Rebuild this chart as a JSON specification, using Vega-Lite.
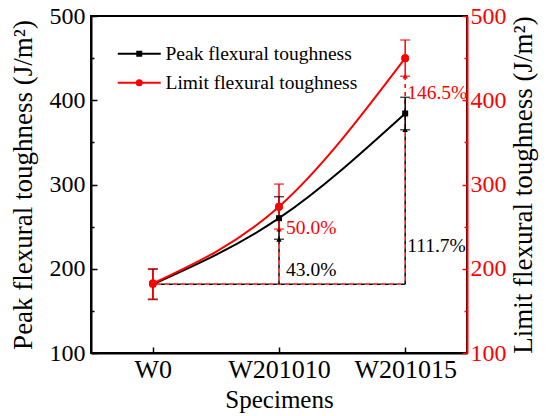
{
  "$schema": "https://vega.github.io/schema/vega-lite/v6.json",
  "width": 376,
  "height": 337,
  "autosize": {"type": "none"},
  "padding": {"left": 91, "top": 16, "right": 85, "bottom": 63},
  "background": "white",
  "config": {
    "font": "Liberation Serif",
    "view": {"stroke": "black", "strokeWidth": 2},
    "text": {"font": "Liberation Serif"},
    "legend": {"labelFont": "Liberation Serif"},
    "axis": {
      "labelFont": "Liberation Serif",
      "titleFont": "Liberation Serif",
      "labelFontSize": 24,
      "titleFontSize": 27,
      "titleFontWeight": "normal",
      "labelColor": "black",
      "titleColor": "black",
      "domainColor": "black",
      "domainWidth": 2,
      "tickColor": "black",
      "tickWidth": 1.5,
      "grid": false
    }
  },
  "datasets": {
    "toughness": [
      {"specimen": "W0", "series": "Peak flexural toughness", "value": 181.5, "lo": 163.5, "hi": 199.5},
      {"specimen": "W201010", "series": "Peak flexural toughness", "value": 260, "lo": 235, "hi": 285.5},
      {"specimen": "W201015", "series": "Peak flexural toughness", "value": 384.3, "lo": 365, "hi": 403.5},
      {"specimen": "W0", "series": "Limit flexural toughness", "value": 182.5, "lo": 164, "hi": 200},
      {"specimen": "W201010", "series": "Limit flexural toughness", "value": 273.7, "lo": 247, "hi": 300.5},
      {"specimen": "W201015", "series": "Limit flexural toughness", "value": 450, "lo": 428.5, "hi": 471.5}
    ],
    "baseline": [
      {"series": "Peak flexural toughness", "from": "W0", "to": "W201015", "level": 181.5},
      {"series": "Limit flexural toughness", "from": "W0", "to": "W201015", "level": 182}
    ],
    "risers": [
      {"series": "Peak flexural toughness", "specimen": "W201010", "level": 181.5, "top": 235},
      {"series": "Peak flexural toughness", "specimen": "W201015", "level": 181.5, "top": 365},
      {"series": "Limit flexural toughness", "specimen": "W201010", "level": 182, "top": 247},
      {"series": "Limit flexural toughness", "specimen": "W201015", "level": 182, "top": 428.5}
    ],
    "gains": [
      {"series": "Limit flexural toughness", "specimen": "W201010", "at": 248, "label": "50.0%"},
      {"series": "Peak flexural toughness", "specimen": "W201010", "at": 198.5, "label": "43.0%"},
      {"series": "Limit flexural toughness", "specimen": "W201015", "at": 408.5, "label": "146.5%"},
      {"series": "Peak flexural toughness", "specimen": "W201015", "at": 227, "label": "111.7%"}
    ]
  },
  "encoding": {
    "x": {
      "field": "specimen",
      "type": "ordinal",
      "scale": {"type": "point", "domain": ["W0", "W201010", "W201015"], "padding": 0.49},
      "axis": {"title": "Specimens", "titleFontSize": 25, "labelFontSize": 26, "labelAngle": 0, "tickSize": -6, "labelPadding": 9, "titlePadding": 5}
    }
  },
  "layer": [
    {
      "encoding": {
        "y": {
          "type": "quantitative",
          "scale": {"domain": [100, 500], "nice": false, "zero": false},
          "axis": {
            "title": "Peak flexural toughness (J/m²)",
            "values": [100, 150, 200, 250, 300, 350, 400, 450, 500],
            "labelExpr": "datum.value % 100 === 0 ? datum.label : ''",
            "tickSize": {"condition": {"test": "datum.value % 100 === 0", "value": -6}, "value": -3},
            "labelPadding": 12,
            "titlePadding": 12
          }
        },
        "color": {
          "field": "series",
          "type": "nominal",
          "scale": {"domain": ["Peak flexural toughness", "Limit flexural toughness"], "range": ["black", "#ff0000"]},
          "legend": {
            "title": null,
            "orient": "none",
            "legendX": 38.5,
            "legendY": 28,
            "labelFontSize": 19.5,
            "labelColor": "black",
            "labelLimit": 0,
            "labelOffset": 16.5,
            "symbolSize": 100,
            "symbolStrokeWidth": 2,
            "rowPadding": 8,
            "encode": {
              "symbols": {
                "update": {
                  "shape": {"signal": "datum.value === 'Peak flexural toughness' ? 'M-4.3,0H4.3M-0.4,-0.4H0.4V0.4H-0.4Z' : 'M-4.3,0H4.3M-0.5,0A0.5,0.5,0,1,0,0.5,0A0.5,0.5,0,1,0,-0.5,0Z'"},
                  "fill": {"signal": "datum.value === 'Peak flexural toughness' ? 'black' : '#ff0000'"},
                  "stroke": {"signal": "datum.value === 'Peak flexural toughness' ? 'black' : '#ff0000'"},
                  "strokeWidth": {"value": 2},
                  "opacity": {"value": 1}
                }
              }
            }
          }
        }
      },
      "layer": [
        {
          "data": {"name": "baseline"},
          "transform": [{"filter": "datum.series === 'Peak flexural toughness'"}],
          "mark": {"type": "rule", "strokeWidth": 1.5, "strokeDash": [4, 4]},
          "encoding": {"x": {"field": "from"}, "x2": {"field": "to"}, "y": {"field": "level"}}
        },
        {
          "data": {"name": "baseline"},
          "transform": [{"filter": "datum.series === 'Limit flexural toughness'"}],
          "mark": {"type": "rule", "strokeWidth": 1.5, "strokeDash": [4, 4], "strokeDashOffset": 4},
          "encoding": {"x": {"field": "from"}, "x2": {"field": "to"}, "y": {"field": "level"}}
        },
        {
          "data": {"name": "risers"},
          "transform": [{"filter": "datum.series === 'Peak flexural toughness'"}],
          "mark": {"type": "rule", "strokeWidth": 1.5, "strokeDash": [4, 4]},
          "encoding": {"y": {"field": "level"}, "y2": {"field": "top"}}
        },
        {
          "data": {"name": "risers"},
          "transform": [{"filter": "datum.series === 'Limit flexural toughness'"}],
          "mark": {"type": "rule", "strokeWidth": 1.5, "strokeDash": [4, 4], "strokeDashOffset": 4},
          "encoding": {"y": {"field": "level"}, "y2": {"field": "top"}}
        },
        {
          "data": {"name": "risers"},
          "mark": {"type": "point", "shape": "triangle-up", "filled": true, "size": 30, "opacity": 1},
          "encoding": {"y": {"field": "top"}}
        },
        {
          "data": {"name": "toughness"},
          "mark": {"type": "line", "interpolate": "monotone", "strokeWidth": 2},
          "encoding": {"y": {"field": "value"}}
        },
        {
          "data": {"name": "toughness"},
          "mark": {"type": "rule", "strokeWidth": 1.5},
          "encoding": {"y": {"field": "lo"}, "y2": {"field": "hi"}}
        },
        {
          "data": {"name": "toughness"},
          "mark": {"type": "tick", "thickness": 1.5, "size": 10},
          "encoding": {"y": {"field": "hi"}}
        },
        {
          "data": {"name": "toughness"},
          "mark": {"type": "tick", "thickness": 1.5, "size": 10},
          "encoding": {"y": {"field": "lo"}}
        },
        {
          "data": {"name": "toughness"},
          "transform": [{"filter": "datum.series === 'Peak flexural toughness'"}],
          "mark": {"type": "point", "shape": "square", "size": 36, "filled": true, "opacity": 1},
          "encoding": {"y": {"field": "value"}}
        },
        {
          "data": {"name": "toughness"},
          "transform": [{"filter": "datum.series === 'Limit flexural toughness'"}],
          "mark": {"type": "point", "shape": "circle", "size": 60, "filled": true, "opacity": 1},
          "encoding": {"y": {"field": "value"}}
        },
        {
          "data": {"name": "gains"},
          "transform": [{"filter": "datum.specimen === 'W201010'"}],
          "mark": {"type": "text", "align": "left", "baseline": "middle", "dx": 7, "fontSize": 19.5},
          "encoding": {"y": {"field": "at"}, "text": {"field": "label"}}
        },
        {
          "data": {"name": "gains"},
          "transform": [{"filter": "datum.specimen === 'W201015'"}],
          "mark": {"type": "text", "align": "left", "baseline": "middle", "dx": 2, "fontSize": 19.5},
          "encoding": {"y": {"field": "at"}, "text": {"field": "label"}}
        }
      ]
    },
    {
      "data": {"name": "toughness"},
      "transform": [{"filter": "datum.series === 'Limit flexural toughness'"}],
      "mark": {"type": "point", "filled": true, "opacity": 1, "size": 60, "color": "#ff0000"},
      "encoding": {
        "y": {
          "field": "value",
          "type": "quantitative",
          "scale": {"domain": [100, 500], "nice": false, "zero": false},
          "axis": {
            "orient": "right",
            "title": "Limit flexural toughness (J/m²)",
            "titleAngle": -90,
            "values": [100, 150, 200, 250, 300, 350, 400, 450, 500],
            "labelExpr": "datum.value % 100 === 0 ? datum.label : ''",
            "tickSize": {"condition": {"test": "datum.value % 100 === 0", "value": -5}, "value": -3},
            "labelPadding": 8,
            "titlePadding": 31,
            "domainColor": "#ff0000",
            "tickColor": "#ff0000",
            "labelColor": "#ff0000"
          }
        }
      }
    }
  ],
  "resolve": {"scale": {"y": "independent"}}
}
